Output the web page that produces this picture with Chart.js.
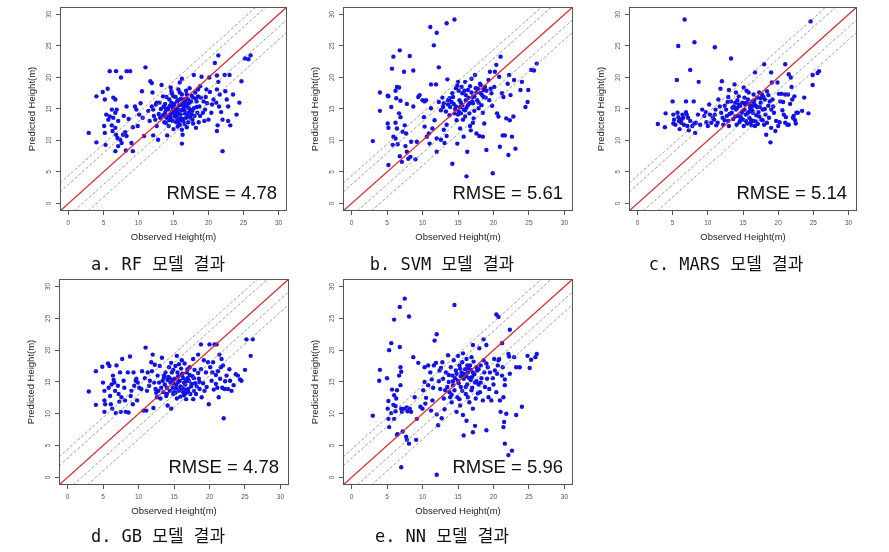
<!DOCTYPE html>
<html>
<head>
<meta charset="utf-8">
<script src="https://cdn.jsdelivr.net/npm/chart.js@4.4.1/dist/chart.umd.min.js"></script>
<style>
  html, body { margin: 0; padding: 0; background: #fff; }
  body { width: 889px; height: 552px; position: relative; overflow: hidden; }
  .panel { position: absolute; }
  .caption {
    position: absolute; white-space: pre; color: #111;
    font: 17px "DejaVu Sans Mono", "Noto Sans CJK KR", monospace;
    transform: translate(-50%, -50%);
  }
</style>
</head>
<body>
<script>
/* ---------- data (observed, predicted) ---------- */
const rfPoints = [
  [2.9,11.2],[4.0,17.0],[4.0,9.7],[4.9,17.7],[5.2,16.5],[5.6,18.2],[5.4,14.1],[5.1,12.3],[5.2,11.2],[5.3,9.3],
  [5.9,21.0],[6.8,21.0],[7.5,20.0],[8.3,21.0],[8.8,21.0],[6.4,16.8],[6.7,16.5],[6.2,14.9],[6.7,14.4],[6.9,14.9],
  [5.9,13.8],[6.4,13.6],[5.7,13.3],[7.1,13.1],[6.2,12.4],[6.7,12.0],[6.3,11.5],[6.8,10.9],[7.0,10.4],[7.4,10.1],
  [6.7,8.3],[7.1,9.1],[7.6,9.6],[7.8,10.9],[8.1,11.3],[8.3,10.7],[7.9,13.9],[8.3,15.4],[8.6,13.4],[9.2,12.1],
  [9.0,9.6],[9.2,8.3],[8.2,8.4],[9.5,15.4],[9.7,14.9],[10.1,14.1],[10.5,17.8],[9.9,12.3],[10.8,10.7],[11.0,21.6],
  [10.6,13.6],[11.7,19.4],[11.9,19.1],[12.0,17.6],[11.9,15.4],[12.1,14.9],[11.4,14.7],[12.2,13.9],[12.4,13.3],[12.6,12.3],
  [12.1,10.8],[12.8,10.1],[12.6,16.0],[13.0,16.0],[13.3,18.8],[13.5,17.0],[13.6,15.4],[13.2,15.0],[13.8,14.4],[14.0,13.6],
  [13.9,12.8],[14.3,12.3],[14.1,10.8],[14.4,16.5],[14.6,18.4],[14.7,17.8],[15.0,17.0],[14.7,16.0],[14.9,15.2],[15.2,14.9],
  [15.0,14.4],[15.4,13.9],[14.6,13.6],[15.5,13.3],[15.7,12.8],[15.9,12.5],[16.2,19.8],[15.9,19.2],[15.7,18.1],[16.2,17.3],
  [16.4,16.5],[15.5,16.2],[15.8,15.6],[16.3,14.9],[16.0,14.1],[16.6,14.7],[16.8,13.6],[16.4,13.1],[16.2,11.7],[16.3,10.9],
  [16.2,9.5],[16.9,17.3],[17.1,16.5],[17.3,16.0],[16.9,15.4],[17.4,14.9],[17.6,14.1],[17.1,12.9],[17.7,13.3],[17.8,16.8],
  [18.1,17.6],[17.9,20.4],[18.3,16.2],[18.5,17.0],[18.7,15.4],[18.4,14.4],[18.8,18.6],[19.0,20.1],[18.2,12.0],[18.8,13.9],
  [19.3,16.2],[19.5,14.9],[19.7,18.1],[20.0,13.3],[20.1,20.0],[20.2,17.7],[20.7,16.5],[20.4,14.4],[20.9,22.3],[21.4,23.5],
  [21.2,20.3],[21.4,19.3],[21.2,18.1],[21.6,17.3],[21.1,16.0],[21.5,15.4],[21.3,12.4],[21.2,11.5],[22.0,13.3],[22.0,8.3],
  [22.3,20.4],[22.6,16.5],[22.8,15.4],[23.0,20.4],[22.8,13.1],[23.1,12.4],[23.5,17.3],[24.0,14.1],[24.4,16.0],[24.7,19.4],
  [25.2,23.0],[25.7,22.9],[26.0,23.5],[13.8,15.8],[14.2,14.9],[14.5,15.5],[14.8,14.6],[15.1,15.8],[15.3,14.3],[15.6,15.0],
  [15.8,14.2],[16.1,15.6],[16.5,15.3],[16.7,16.0],[17.0,15.7],[17.2,14.4],[17.5,16.2],[17.9,15.1],[18.2,16.6],[14.9,13.1],
  [15.4,12.9],[16.0,13.2],[16.6,12.6],[13.5,14.0],[12.9,14.2],[13.1,13.6],[14.0,16.9],[15.9,17.6],[16.8,17.9],[17.6,17.1],
  [18.9,16.8],[19.8,15.9],[19.2,14.4],[14.3,15.2],[14.6,14.1],[15.0,15.6],[15.2,13.8],[15.5,14.6],[15.7,16.4],[15.9,13.6],
  [16.1,14.8],[16.3,13.4],[16.4,15.9],[16.6,14.3],[16.8,16.6],[17.0,13.9],[17.2,15.1],[17.4,13.6],[17.7,14.7],[18.0,13.9],
  [18.3,15.3],[15.3,16.9],[14.8,17.4],[13.9,15.0],[14.1,13.8],[13.7,12.9],[15.6,12.2],[16.9,12.1],[17.8,12.7],[18.6,12.9],
  [19.4,13.1],[15.0,11.8],[14.4,13.2],[16.0,16.6],[17.3,18.3],[18.5,18.1],[19.6,16.9],[20.5,15.7],[21.8,14.5],[22.4,17.8],
  [12.5,15.7],[11.6,13.1],[10.3,15.9]
];

const svmPoints = [
  [11.1,28.0],[13.4,28.6],[14.5,29.2],[12.0,27.1],[11.6,25.1],[6.8,24.3],[8.2,23.4],[5.9,23.3],[5.7,21.4],[7.4,20.9],
  [8.7,21.1],[12.3,21.6],[13.5,19.7],[3.0,9.9],[4.0,17.6],[4.0,14.7],[5.1,17.1],[5.2,17.0],[5.1,12.7],[5.2,12.0],
  [5.2,6.1],[5.6,15.3],[6.2,17.9],[6.4,18.5],[6.7,18.4],[6.3,16.7],[6.7,14.3],[6.9,13.7],[6.2,12.8],[6.4,11.9],
  [5.9,10.6],[6.2,10.3],[5.8,9.3],[6.5,9.4],[6.8,7.5],[7.1,6.6],[7.5,12.4],[7.2,11.4],[7.7,11.1],[7.6,9.1],
  [7.8,8.2],[8.0,7.1],[8.3,7.4],[6.9,16.3],[7.8,15.8],[8.4,9.8],[8.7,15.4],[9.0,7.0],[9.2,9.8],[9.4,16.9],
  [9.6,17.2],[10.0,16.4],[10.2,13.7],[10.3,12.2],[10.3,16.2],[10.5,16.4],[10.6,10.6],[10.9,11.1],[11.0,9.5],[11.2,18.9],
  [11.2,15.1],[11.4,11.9],[11.7,13.2],[11.9,18.9],[12.0,10.3],[12.0,8.2],[12.3,16.1],[12.6,14.8],[12.6,10.1],[12.9,15.3],
  [13.0,15.9],[13.0,11.7],[13.1,9.6],[13.4,12.5],[13.4,10.7],[13.6,16.4],[13.8,14.0],[13.8,16.7],[13.9,15.3],[14.2,17.5],
  [14.2,6.3],[14.4,15.8],[14.5,14.3],[14.7,18.3],[14.8,13.2],[14.9,9.5],[15.0,19.3],[15.2,16.4],[15.3,15.3],[15.4,14.3],
  [15.5,18.5],[15.6,17.5],[15.7,13.3],[15.8,10.6],[16.0,19.3],[16.1,16.4],[16.2,15.2],[16.3,8.2],[16.2,4.3],[16.4,18.0],
  [16.6,14.3],[16.7,12.3],[16.8,11.6],[16.9,19.8],[17.1,16.9],[17.1,15.9],[17.2,13.5],[17.4,20.4],[17.5,18.3],[17.6,11.1],
  [17.7,16.4],[17.9,15.1],[18.0,10.7],[18.1,19.0],[18.2,17.5],[18.3,15.6],[18.5,10.6],[18.6,18.0],[18.7,12.7],[18.8,18.5],
  [18.9,16.8],[19.0,8.5],[19.3,19.6],[19.4,16.4],[19.5,20.9],[19.7,17.5],[19.9,4.8],[20.1,18.5],[20.2,20.9],[20.4,22.0],
  [20.5,14.3],[20.7,13.8],[20.8,20.1],[20.9,9.0],[21.0,23.3],[21.2,17.5],[21.3,10.8],[21.4,16.9],[21.6,10.8],[21.8,13.5],
  [22.0,19.0],[22.1,7.7],[22.2,20.4],[22.3,13.2],[22.4,17.2],[22.6,10.6],[22.8,13.8],[22.9,19.6],[23.1,8.7],[23.8,18.0],
  [24.0,19.3],[24.5,15.3],[24.8,16.1],[24.9,18.0],[25.3,21.2],[25.7,21.1],[26.1,22.2],[14.6,15.0],[15.1,14.6],[15.6,15.6],
  [16.0,14.8],[16.5,16.8],[16.9,17.6],[17.3,17.0],[17.8,18.2],[18.4,17.2],[14.1,16.1],[13.3,14.6],[15.9,17.9],[16.6,15.9],
  [14.3,16.9],[14.7,15.4],[15.1,17.9],[15.4,16.0],[15.8,14.9],[16.1,17.2],[16.4,15.6],[16.7,18.6],[17.0,16.2],[17.3,14.7],
  [17.6,17.6],[17.9,16.0],[18.2,18.8],[18.6,16.9],[19.0,17.9],[19.6,18.2],[15.0,14.1],[16.0,13.8],[13.6,15.7],[12.8,16.8],
  [14.9,18.7],[18.5,14.4],[19.8,15.5],[17.1,12.8],[15.3,11.9]
];

const marsPoints = [
  [6.7,29.2],[5.8,25.0],[8.1,25.6],[11.0,24.8],[13.3,23.0],[7.5,21.2],[5.6,19.6],[8.7,19.3],[24.6,28.9],[18.0,22.1],
  [21.0,22.1],[25.8,21.0],[25.6,20.7],[24.9,20.4],[24.9,18.8],[19.0,20.8],[2.9,12.6],[3.9,12.1],[4.0,14.3],[5.0,16.2],
  [5.1,14.1],[5.2,13.3],[5.1,12.7],[5.4,12.5],[5.7,14.4],[5.8,13.7],[5.9,13.1],[6.0,11.8],[6.2,12.8],[6.4,14.1],
  [6.5,13.6],[6.6,12.5],[6.9,14.5],[6.9,16.2],[7.0,14.1],[7.1,12.3],[7.3,11.6],[7.5,13.1],[7.2,13.6],[8.0,16.2],
  [8.1,12.7],[8.2,11.2],[7.8,12.3],[8.3,12.8],[8.6,14.1],[8.9,12.5],[9.2,14.9],[9.5,13.9],[9.7,14.5],[10.0,12.3],
  [10.2,15.7],[10.3,14.1],[10.5,12.8],[10.7,13.6],[11.0,14.1],[11.1,14.9],[11.2,12.4],[11.4,12.8],[11.5,16.5],[11.8,18.2],
  [12.0,19.4],[11.9,14.4],[12.1,13.6],[12.2,12.5],[12.4,15.5],[12.6,14.9],[12.7,13.9],[12.9,13.1],[13.0,12.3],[13.0,18.0],
  [13.3,16.2],[13.4,14.4],[13.6,13.4],[13.8,18.9],[13.9,16.0],[14.0,14.9],[14.1,12.5],[14.3,13.9],[14.4,17.0],[14.5,12.9],
  [14.6,15.5],[14.8,14.4],[14.9,16.0],[15.0,13.3],[15.1,18.4],[15.1,12.3],[15.2,14.9],[15.3,15.7],[15.4,14.1],[15.6,12.7],
  [15.7,16.5],[15.8,17.6],[15.9,13.6],[16.0,15.2],[16.2,12.4],[16.3,16.2],[16.4,14.4],[16.5,17.3],[16.5,13.1],[16.7,20.8],
  [16.8,15.5],[16.9,14.0],[17.0,16.8],[17.1,12.6],[17.2,14.5],[17.3,17.6],[17.5,16.0],[17.6,13.3],[17.7,17.3],[17.8,14.9],
  [18.0,12.5],[18.1,16.5],[18.2,14.1],[18.3,10.9],[18.4,17.8],[18.6,15.5],[18.7,13.6],[18.8,16.2],[18.9,9.7],[19.0,12.0],
  [19.1,19.2],[19.2,16.5],[19.4,14.4],[19.6,11.5],[19.7,13.1],[19.9,19.2],[20.0,12.3],[20.1,17.4],[20.3,16.2],[20.5,17.4],
  [20.7,16.1],[20.8,14.1],[21.0,17.3],[21.0,12.8],[21.1,13.7],[21.3,12.5],[21.4,17.3],[21.5,20.5],[21.5,12.5],[21.8,20.0],
  [21.9,18.5],[22.0,16.5],[22.1,13.6],[22.2,13.9],[22.4,13.2],[22.5,12.7],[22.6,14.4],[22.8,14.4],[23.7,16.8],[24.3,14.3],
  [23.4,14.7],[14.2,15.2],[14.7,13.7],[15.5,15.9],[15.9,14.6],[16.6,15.8],[17.4,15.3],[16.1,13.3],[13.7,15.4],[12.8,16.1],
  [13.5,15.2],[13.9,13.8],[14.2,16.4],[14.6,13.2],[14.9,14.6],[15.2,16.8],[15.4,13.1],[15.7,14.4],[15.9,15.8],[16.1,12.9],
  [16.3,14.8],[16.6,16.4],[16.8,13.0],[17.0,15.3],[17.3,13.8],[17.5,16.7],[17.8,13.2],[18.1,15.0],[18.4,12.8],[16.4,15.5],
  [15.3,15.9],[14.4,15.7],[13.1,14.2],[12.4,13.2],[11.7,15.4],[10.9,13.3],[9.8,12.9],[16.7,12.3],[17.9,16.9],[19.3,15.4],
  [20.6,14.8],[21.7,15.8],[22.3,17.0],[20.2,12.9],[19.0,14.9],[18.6,17.2],[14.0,17.6],[15.5,17.9],[12.9,16.9],[6.3,13.4]
];

const gbPoints = [
  [3.0,13.5],[4.0,16.7],[4.0,11.4],[4.9,17.4],[5.0,14.9],[5.2,13.6],[5.2,12.1],[5.3,11.5],[5.2,10.3],[5.7,17.9],
  [5.9,17.5],[5.8,14.1],[6.0,12.8],[6.1,11.5],[6.3,10.8],[6.4,16.0],[6.5,15.3],[6.6,14.9],[6.7,13.6],[6.8,10.1],
  [6.9,17.6],[7.1,14.4],[7.2,13.1],[7.3,11.9],[7.4,16.5],[7.5,10.3],[7.7,18.6],[7.9,15.2],[8.0,14.1],[8.1,12.1],
  [8.2,10.3],[8.5,16.5],[8.6,10.2],[8.8,19.0],[8.9,12.8],[9.2,11.5],[9.3,16.5],[9.4,14.4],[9.6,15.2],[9.7,15.5],
  [9.8,12.1],[9.9,14.9],[10.1,14.1],[10.4,13.9],[10.5,16.7],[10.7,10.5],[11.0,20.4],[11.1,10.5],[11.2,13.6],[11.3,16.5],
  [11.5,14.4],[11.8,18.1],[11.9,16.7],[12.0,19.3],[12.1,10.9],[12.2,14.9],[12.4,13.9],[12.5,13.3],[12.6,12.6],[12.7,16.0],
  [12.9,14.9],[13.0,17.5],[13.2,14.1],[13.3,18.8],[13.4,15.2],[13.5,13.4],[13.7,14.6],[13.8,16.5],[13.9,12.8],[14.0,14.1],
  [14.1,11.3],[14.1,15.3],[14.3,17.3],[14.4,13.6],[14.5,14.9],[14.6,10.8],[14.6,18.0],[14.7,16.5],[14.8,14.1],[14.9,13.1],
  [15.1,15.5],[15.2,17.5],[15.3,14.6],[15.4,19.1],[15.5,16.5],[15.7,13.6],[15.8,15.2],[15.9,12.7],[16.0,17.1],[16.2,14.1],
  [16.3,15.6],[16.3,13.4],[16.5,17.9],[16.6,14.6],[16.7,12.3],[16.8,16.5],[17.0,13.9],[17.1,15.2],[17.2,17.3],[17.3,13.1],
  [17.4,14.3],[17.6,15.9],[17.7,12.3],[17.8,13.6],[17.9,16.9],[18.0,14.8],[18.1,13.1],[18.4,19.3],[18.5,15.5],[18.6,13.9],
  [18.8,20.9],[18.8,17.0],[19.1,14.8],[19.3,13.6],[19.5,16.5],[19.8,18.1],[19.9,11.5],[20.0,20.9],[20.1,17.3],[20.3,15.2],
  [20.4,16.5],[20.5,18.1],[20.7,20.9],[20.9,14.7],[21.0,20.9],[21.1,14.1],[21.2,16.7],[21.3,12.6],[21.4,19.3],[21.5,15.5],
  [21.7,18.6],[21.8,14.1],[21.9,17.6],[22.0,9.3],[22.1,13.9],[22.4,16.0],[22.6,13.9],[22.8,17.0],[22.9,15.2],[23.1,13.6],
  [23.7,16.2],[24.0,16.0],[24.3,15.4],[24.5,15.2],[25.0,16.9],[25.2,21.7],[25.8,19.1],[26.1,21.7],[14.2,15.8],[14.8,15.3],
  [15.3,14.0],[15.6,15.0],[16.1,16.1],[16.4,14.9],[16.9,15.6],[17.5,14.7],[15.0,13.4],[15.9,13.9],[16.6,13.2],[13.6,15.7],
  [14.4,15.6],[14.9,14.8],[15.2,13.3],[15.6,15.9],[15.9,14.3],[16.2,16.3],[16.4,12.9],[16.7,15.1],[17.0,13.4],[17.2,16.1],
  [17.5,14.7],[17.8,15.6],[18.2,14.3],[18.4,16.4],[15.4,12.4],[16.9,17.0],[15.7,17.8],[14.0,13.1],[13.6,16.0],[12.8,13.6],
  [13.1,12.4],[11.6,15.2],[10.9,15.6],[18.9,12.6],[19.6,14.2],[20.6,13.8],[21.6,17.3],[22.2,15.1],[19.2,18.4],[17.7,18.6],
  [16.1,18.4],[6.2,14.6],[7.6,12.6],[9.0,13.6],[12.3,17.7],[14.9,16.9],[16.6,13.8],[18.6,15.0],[20.9,16.1],[23.4,14.5]
];

const nnPoints = [
  [7.5,28.1],[6.8,26.8],[8.1,25.3],[6.0,24.8],[14.5,27.1],[20.4,25.6],[20.7,25.2],[22.3,23.2],[12.0,22.5],[11.7,21.5],
  [5.6,21.1],[6.8,20.5],[5.3,20.0],[17.1,20.8],[18.6,21.7],[19.0,20.8],[21.2,21.1],[12.0,0.4],[7.0,1.6],[22.1,3.5],
  [22.6,4.2],[21.6,5.3],[15.8,6.6],[6.5,6.8],[7.7,6.4],[7.8,5.9],[8.1,5.3],[9.1,5.9],[17.1,7.1],[17.4,8.1],
  [19.0,7.4],[16.2,8.9],[21.4,7.9],[21.5,8.7],[3.0,9.7],[4.0,16.9],[3.9,15.2],[5.0,15.6],[5.2,12.0],[5.1,10.8],
  [5.2,9.2],[5.3,7.9],[5.6,10.1],[5.7,13.8],[6.0,12.9],[5.9,11.4],[6.2,11.2],[6.3,12.4],[6.4,13.7],[6.2,10.4],
  [6.0,9.2],[6.4,6.7],[6.7,16.0],[6.9,17.3],[7.0,16.6],[6.9,14.5],[7.0,10.8],[7.1,10.3],[7.5,10.8],[7.8,11.0],
  [7.9,10.4],[8.2,10.8],[8.4,10.3],[7.2,7.2],[8.7,18.9],[9.4,18.0],[8.9,12.6],[9.2,9.2],[9.7,11.1],[10.0,10.8],
  [10.3,17.3],[10.3,15.0],[10.1,13.7],[10.5,12.5],[10.4,11.6],[10.8,14.5],[11.1,16.5],[11.2,10.5],[11.4,12.1],[11.5,14.1],
  [11.6,17.6],[11.9,18.0],[12.0,9.9],[12.2,8.2],[12.3,15.1],[12.4,16.8],[12.5,13.9],[12.7,9.3],[12.8,18.1],[12.9,15.5],
  [13.0,12.4],[13.1,10.7],[13.3,16.5],[13.5,14.2],[13.6,19.2],[13.7,15.0],[13.8,13.4],[13.9,12.6],[14.1,11.8],[14.2,16.0],
  [14.3,14.5],[14.4,18.4],[14.5,13.7],[14.7,16.8],[14.8,10.3],[14.9,12.6],[15.0,19.1],[15.0,15.2],[15.2,17.6],[15.3,11.3],
  [15.4,14.2],[15.5,16.5],[15.6,18.1],[15.7,9.8],[15.8,15.5],[16.0,17.0],[16.1,13.1],[16.2,18.6],[16.3,14.6],[16.4,16.5],
  [16.6,11.8],[16.7,17.6],[16.8,15.3],[16.9,13.7],[17.1,16.5],[17.1,10.8],[17.2,18.2],[17.4,14.9],[17.5,12.4],[17.7,16.8],
  [17.9,14.6],[18.0,20.3],[18.1,13.4],[18.2,17.6],[18.3,15.6],[18.5,12.1],[18.6,18.4],[18.7,16.5],[18.8,14.2],[19.0,17.9],
  [19.1,15.5],[19.3,12.6],[19.4,13.9],[19.5,16.5],[19.7,12.1],[20.0,14.6],[20.1,18.6],[20.2,16.8],[20.4,13.4],[20.5,16.3],
  [20.7,18.4],[20.8,18.6],[20.9,12.1],[21.0,10.3],[21.2,16.0],[21.3,17.3],[21.4,12.6],[21.6,14.5],[21.8,10.0],[22.1,19.4],
  [22.2,19.0],[22.3,16.3],[22.9,18.9],[23.2,17.3],[23.2,9.8],[23.7,17.3],[24.0,11.1],[24.8,19.1],[25.1,17.2],[25.3,18.5],
  [25.9,18.9],[26.1,19.4],[15.9,16.2],[16.5,17.2],[17.0,15.8],[15.4,15.9],[14.6,15.6],[16.2,15.9],[17.6,17.3],[13.2,13.7],
  [14.8,16.3],[15.1,14.8],[15.3,17.1],[15.6,13.6],[15.9,16.0],[16.1,14.2],[16.3,17.6],[16.6,15.6],[16.8,16.9],[17.0,14.1],
  [17.3,16.2],[17.6,15.1],[17.9,17.0],[18.2,14.9],[14.3,15.1],[14.0,17.3],[13.7,16.1],[16.4,12.6],[17.8,13.2],[15.2,12.3],
  [12.6,17.2],[11.3,15.4],[10.8,17.6],[19.2,17.3],[19.9,15.6],[20.6,17.6],[21.6,15.4],[16.9,18.9],[15.7,19.5],[14.1,13.0]
];

const modelNames = ['RF', 'SVM', 'MARS', 'GB', 'NN'];
const rmseValues = [4.78, 5.61, 5.14, 4.78, 5.96];
const captionLetters = ['a', 'b', 'c', 'd', 'e'];
const axisTicks = [0, 5, 10, 15, 20, 25, 30];
const axisMin = -1.2, axisMax = 31.2;
const bandOffsets = [4.4, 3, -2, -4];   // dashed lines parallel to 1:1

const allPoints = [rfPoints, svmPoints, marsPoints, gbPoints, nnPoints];

/* plot boxes [left, top, right, bottom] and caption centers */
const boxes = [[60, 6, 287, 211], [343, 6, 573, 211], [629, 6, 857, 211], [59, 278, 289, 485], [343, 278, 573, 485]];
const captionPos = [[158, 262], [442, 262], [726, 262], [158, 534], [442, 534]];

/* draws the R-style frame around the plot region */
const framePlugin = {
  id: 'frame',
  afterDraw(chart) {
    const { ctx, chartArea: a } = chart;
    ctx.save();
    ctx.strokeStyle = '#555';
    ctx.lineWidth = 1;
    ctx.strokeRect(Math.round(a.left) + 0.5, Math.round(a.top) + 0.5,
      Math.round(a.right - a.left) - 1, Math.round(a.bottom - a.top) - 1);
    ctx.restore();
  }
};

const rmsePlugin = {
  id: 'rmseLabel',
  afterDatasetsDraw(chart, args, opts) {
    const { ctx, chartArea: a } = chart;
    ctx.save();
    ctx.font = '18.5px "Liberation Sans", Arial, sans-serif';
    ctx.fillStyle = '#111';
    ctx.textAlign = 'right';
    ctx.textBaseline = 'alphabetic';
    ctx.fillText(opts.text, a.right - 10, a.bottom - 12);
    ctx.restore();
  }
};

function lineThrough(offset) {
  // y = x + offset, clipped to the axis limits
  const x0 = offset > 0 ? axisMin : axisMin - offset;
  const x1 = offset > 0 ? axisMax - offset : axisMax;
  return [{ x: x0, y: x0 + offset }, { x: x1, y: x1 + offset }];
}

function axisOpts(isY) {
  return {
    type: 'linear',
    min: axisMin,
    max: axisMax,
    afterBuildTicks: s => { s.ticks = axisTicks.map(v => ({ value: v })); },
    afterFit: s => { if (isY) s.width = 60; else s.height = 40; },
    grid: { drawOnChartArea: false, drawTicks: true, tickLength: 4, tickColor: '#555', color: '#555' },
    border: { display: false },
    ticks: isY
      ? { font: { family: 'Liberation Sans', size: 6.5 }, color: '#555', padding: 3, minRotation: 90, maxRotation: 90, crossAlign: 'center', autoSkip: false }
      : { font: { family: 'Liberation Sans', size: 6.5 }, color: '#555', padding: 4, maxRotation: 0, autoSkip: false },
    title: {
      display: true,
      text: isY ? 'Predicted Height(m)' : 'Observed Height(m)',
      font: { family: 'Liberation Sans', size: 9.5 },
      color: '#222',
      padding: isY ? { top: 27, bottom: 0 } : { top: 0, bottom: 8 }
    }
  };
}

allPoints.forEach((pts, i) => {
  const [l, t, r, b] = boxes[i];
  const w = r - l + 65, h = b - t + 46;
  const wrap = document.createElement('div');
  wrap.className = 'panel';
  wrap.style.cssText = `left:${l - 60}px;top:${t - 6}px;width:${w}px;height:${h}px`;
  const canvas = document.createElement('canvas');
  canvas.width = w; canvas.height = h;
  canvas.style.width = w + 'px'; canvas.style.height = h + 'px';
  wrap.appendChild(canvas);
  document.body.appendChild(wrap);

  const datasets = [
    { data: lineThrough(0), showLine: true, borderColor: '#e3262a', borderWidth: 1.3, pointRadius: 0, order: 0 },
    ...bandOffsets.map(c => ({
      data: lineThrough(c), showLine: true, borderColor: '#858585', borderWidth: 0.8,
      borderDash: [3, 2], pointRadius: 0, order: 1
    })),
    { data: pts.map(([x, y]) => ({ x, y })), pointRadius: 2.2, pointBackgroundColor: '#1212e8',
      pointBorderWidth: 0, order: 2 }
  ];

  new Chart(canvas, {
    type: 'scatter',
    data: { datasets },
    options: {
      responsive: false,
      animation: false,
      layout: { padding: { top: 6, right: 5, left: 0, bottom: 0 } },
      plugins: { legend: { display: false }, tooltip: { enabled: false },
        rmseLabel: { text: 'RMSE = ' + rmseValues[i].toFixed(2) } },
      scales: { x: axisOpts(false), y: axisOpts(true) }
    },
    plugins: [framePlugin, rmsePlugin]
  });

  const cap = document.createElement('div');
  cap.className = 'caption';
  cap.textContent = `${captionLetters[i]}. ${modelNames[i]} 모델 결과`;
  cap.style.left = captionPos[i][0] + 'px';
  cap.style.top = captionPos[i][1] + 'px';
  document.body.appendChild(cap);
});
</script>
</body>
</html>
